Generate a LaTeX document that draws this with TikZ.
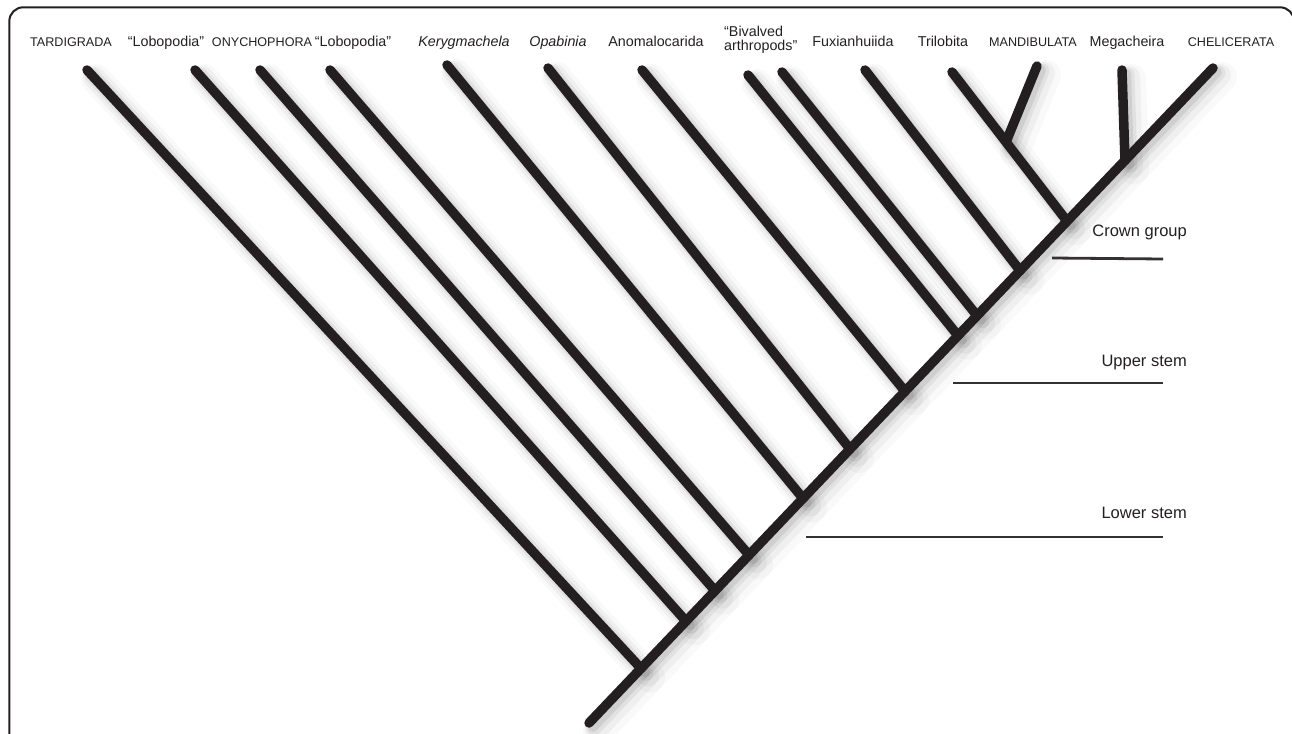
\documentclass[tikz,border=0pt]{standalone}
\usepackage{fontspec}
\setmainfont{Liberation Sans}
\definecolor{ink}{HTML}{231F20}
\begin{document}
\begin{tikzpicture}[x=1pt,y=-1pt,
  branch/.style={line width=9.5pt, draw=ink, line cap=round},
  rule/.style={line width=2.8pt, draw=ink!92},
  capslbl/.style={font=\fontsize{12.6}{15}\selectfont, text=ink, inner sep=0pt, anchor=base},
  lbl/.style={font=\fontsize{14.3}{17}\selectfont, text=ink, inner sep=0pt, anchor=base},
  sidelbl/.style={font=\fontsize{16.5}{20}\selectfont, text=ink, inner sep=0pt, anchor=base east},
  frame/.style={line width=2pt, draw=ink, rounded corners=14pt},
  shadeA/.style={line width=30pt, draw=black, opacity=0.025, line cap=round},
  shadeB/.style={line width=22pt, draw=black, opacity=0.04, line cap=round},
  shadeC/.style={line width=15pt, draw=black, opacity=0.06, line cap=round},
  shadeD/.style={line width=10pt, draw=black, opacity=0.08, line cap=round}
]
\useasboundingbox (0,0) rectangle (1292,733);
\begin{scope}
  \clip (0,0) rectangle (1292,733);
  \draw[frame] (9.3,7.3) rectangle (1294,800);
\end{scope}

% stem
\coordinate (root) at (589,723);
\coordinate (chel) at (1213,68);
% junctions on the stem
\coordinate (j1) at (641,668.4);
\coordinate (j2) at (686,621.2);
\coordinate (j3) at (715,590.7);
\coordinate (j4) at (749,555.0);
\coordinate (j5) at (803,498.4);
\coordinate (j6) at (850,449.0);
\coordinate (j7) at (905,391.3);
\coordinate (j8) at (958,335.7);
\coordinate (j9) at (977,315.7);
\coordinate (j10) at (1020,270.6);
\coordinate (j11) at (1067,221.2);
\coordinate (j12) at (1125,160.4);
% tips
\coordinate (tard) at (87,70);
\coordinate (lobA) at (195,70);
\coordinate (ony) at (260,70);
\coordinate (lobB) at (330,70);
\coordinate (ker) at (447,65);
\coordinate (opa) at (548,68);
\coordinate (ano) at (642,70);
\coordinate (biv) at (748,75);
\coordinate (fux) at (782,72);
\coordinate (tri) at (865,70);
\coordinate (mandc) at (952,72);
\coordinate (jm) at (1006,142);
\coordinate (mand) at (1037,66);
\coordinate (mega) at (1122,70);

% shadows
\foreach \a/\b in {root/chel, tard/j1, lobA/j2, ony/j3, lobB/j4, ker/j5, opa/j6, ano/j7, biv/j8, fux/j9, tri/j10, mandc/j11, mand/jm, mega/j12} {
  \draw[shadeA] ([shift={(9,9)}]\a) -- ([shift={(9,9)}]\b);
  \draw[shadeB] ([shift={(7,7)}]\a) -- ([shift={(7,7)}]\b);
  \draw[shadeC] ([shift={(5,5)}]\a) -- ([shift={(5,5)}]\b);
  \draw[shadeD] ([shift={(4,4)}]\a) -- ([shift={(4,4)}]\b);
}

% branches
\draw[branch] (root) -- (chel);
\foreach \a/\b in {tard/j1, lobA/j2, ony/j3, lobB/j4, ker/j5, opa/j6, ano/j7, biv/j8, fux/j9, tri/j10, mandc/j11, mand/jm, mega/j12} {
  \draw[branch] (\a) -- (\b);
}

% labels
\node[capslbl] (lTard) at (71,47) {TARDIGRADA};
\node[lbl] (lLobA) at (166,47) {“Lobopodia”};
\node[capslbl] (lOny) at (262,47) {ONYCHOPHORA};
\node[lbl] (lLobB) at (353,47) {“Lobopodia”};
\node[lbl] (lKer) at (464,47) {\itshape Kerygmachela};
\node[lbl] (lOpa) at (558,47) {\itshape Opabinia};
\node[lbl] (lAno) at (656,47) {Anomalocarida};
\node[lbl, anchor=base west] (lBiv1) at (724,37) {“Bivalved};
\node[lbl, anchor=base west] (lBiv2) at (724,51) {arthropods”};
\node[lbl] (lFux) at (853,47) {Fuxianhuiida};
\node[lbl] (lTri) at (943,47) {Trilobita};
\node[capslbl] (lMand) at (1033,47) {MANDIBULATA};
\node[lbl] (lMega) at (1127,47) {Megacheira};
\node[capslbl] (lChel) at (1231,47) {CHELICERATA};

% stem-group rules
\coordinate (cg1) at (1052,258);
\coordinate (cg2) at (1163,259);
\coordinate (us1) at (953,383);
\coordinate (us2) at (1163,383);
\coordinate (ls1) at (806,537);
\coordinate (ls2) at (1163,537);
\draw[rule] (cg1) -- (cg2);
\draw[rule] (us1) -- (us2);
\draw[rule] (ls1) -- (ls2);
\node[sidelbl] (lCrown) at (1187,236) {Crown group};
\node[sidelbl] (lUpper) at (1187,366.7) {Upper stem};
\node[sidelbl] (lLower) at (1187,518) {Lower stem};
\end{tikzpicture}
\end{document}
